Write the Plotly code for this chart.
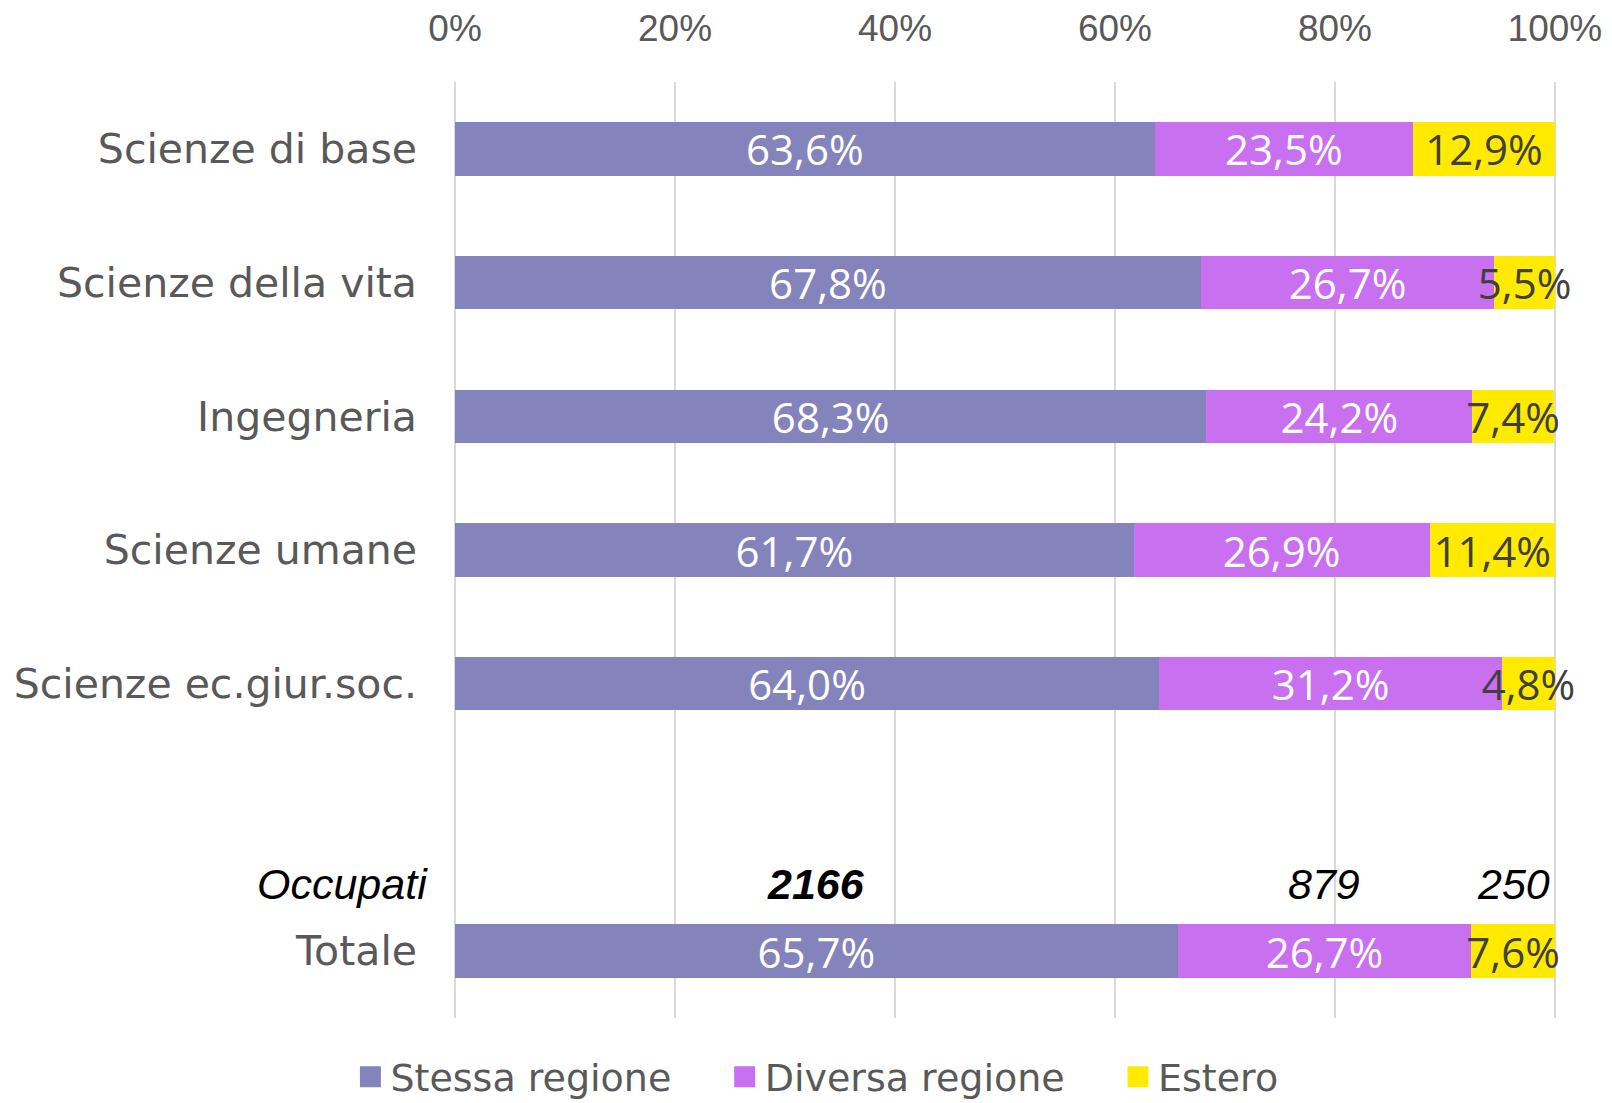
import plotly.graph_objects as go

categories = ["Scienze di base", "Scienze della vita", "Ingegneria", "Scienze umane",
              "Scienze ec.giur.soc.", "Totale"]
stessa = [63.6, 67.8, 68.3, 61.7, 64.0, 65.7]
diversa = [23.5, 26.7, 24.2, 26.9, 31.2, 26.7]
estero = [12.9, 5.5, 7.4, 11.4, 4.8, 7.6]
occupati = [2166, 879, 250]
series_names = ["Stessa regione", "Diversa regione", "Estero"]
x_ticks = [0, 20, 40, 60, 80, 100]
x_ticklabels = ["0%", "20%", "40%", "60%", "80%", "100%"]

# vertical slots: 5 fields, one empty slot, then Totale
y_pos = [0, 1, 2, 3, 4, 6]

colors = ["#8583BB", "#C870F0", "#FFEA00"]
label_colors = ["#FFFFFF", "#FFFFFF", "#404040"]
series = [stessa, diversa, estero]
legend_pad = ["\u00a0" * 4, "\u00a0" * 4, ""]

fig = go.Figure()
for name, vals, col, lc in zip(series_names, series, colors, label_colors):
    fig.add_trace(go.Bar(
        y=y_pos, x=vals, orientation="h", name=name,
        marker=dict(color=col, line=dict(width=0)),
        width=0.4,
        text=[f"{v:.1f}%".replace(".", ",") for v in vals],
        textposition="inside", insidetextanchor="middle",
        constraintext="none", textangle=0,
        textfont=dict(family="Open Sans", size=42, color=lc),
        showlegend=False, hoverinfo="skip", cliponaxis=False,
    ))
for name, col, pad in zip(series_names, colors, legend_pad):
    # legend entry with a larger square
    fig.add_trace(go.Scatter(
        x=[None], y=[None], mode="markers", name=name + pad,
        marker=dict(symbol="square", size=16, color=col, line=dict(color=col, width=5)),
        showlegend=True,
    ))

# Occupati annotations above Totale bar
tot = [stessa[-1], diversa[-1], estero[-1]]
cum = 0
for i, (v, n) in enumerate(zip(tot, occupati)):
    center = cum + v / 2
    cum += v
    txt = f"<b>{n}</b>" if i == 0 else str(n)
    fig.add_annotation(
        x=center, y=5.5, xref="x", yref="y", text=f"<i>{txt}</i>",
        showarrow=False, font=dict(family="Liberation Sans", size=43, color="#000000"),
        xanchor="center", yanchor="middle",
    )
fig.add_annotation(
    x=-0.022, y=5.5, xref="paper", yref="y", text="<i>Occupati</i>",
    showarrow=False, font=dict(family="Liberation Sans", size=43, color="#000000"),
    xanchor="right", yanchor="middle",
)

fig.update_layout(
    width=1604, height=1095,
    margin=dict(l=446, r=56, t=74, b=85, autoexpand=False),
    barmode="stack",
    paper_bgcolor="white", plot_bgcolor="white",
    xaxis=dict(
        range=[-0.1, 100.1], side="top", tickvals=x_ticks, ticktext=x_ticklabels,
        showgrid=True, gridcolor="#D9D9D9", gridwidth=1.5, zeroline=False,
        showline=False, ticks="", ticklabelstandoff=33, automargin=False,
        tickfont=dict(family="Liberation Sans", size=37, color="#595959"),
        fixedrange=True,
    ),
    yaxis=dict(
        range=[6.5, -0.5], tickvals=y_pos, ticktext=categories,
        showgrid=False, zeroline=False, showline=False, ticks="",
        ticklabelstandoff=36, automargin=False,
        tickfont=dict(family="DejaVu Sans", size=41, color="#595959"),
        fixedrange=True,
    ),
    legend=dict(
        orientation="h", x=-0.094, xanchor="left", y=-0.063, yanchor="middle",
        font=dict(family="DejaVu Sans", size=38, color="#595959"),
        bgcolor="rgba(0,0,0,0)", traceorder="normal",
    ),
)

fig.write_html("out.html")
